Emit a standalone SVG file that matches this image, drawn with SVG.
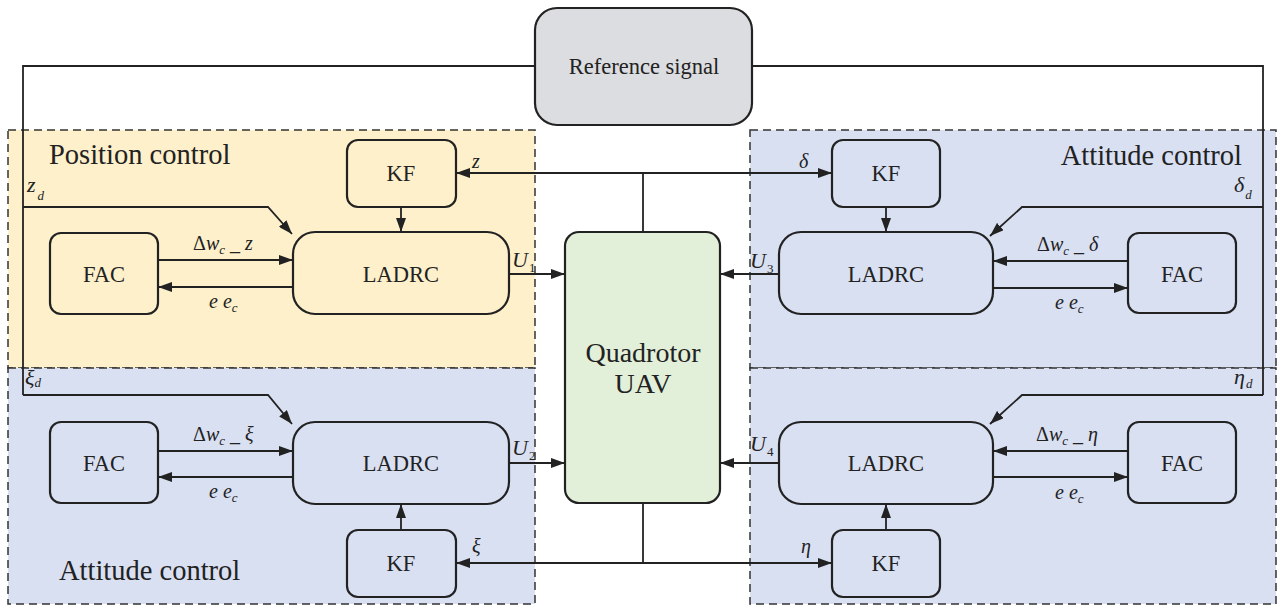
<svg xmlns="http://www.w3.org/2000/svg" width="1279" height="607" viewBox="0 0 1279 607" font-family="'Liberation Serif', 'DejaVu Serif', serif">
<style>
.reg{stroke:#333;stroke-width:1.5;stroke-dasharray:8 5}
.node{stroke:#222;stroke-width:2.2}
.blk{fill:#fdf0cb}
.blu{fill:#d9e0f2}
.ln{fill:none;stroke:#222;stroke-width:1.8}
.arr{marker-end:url(#ah)}
text{font-family:'Liberation Serif','DejaVu Serif',serif;fill:#222}
.nt{font-size:22.5px;text-anchor:middle}
.rt{font-size:28.5px}
.lb{font-size:20px;font-style:italic}
.sub{font-size:13px;font-style:italic}
.up{font-style:normal}
</style>
<defs>
<marker id="ah" markerUnits="userSpaceOnUse" markerWidth="14" markerHeight="10" refX="14" refY="5" orient="auto">
<path d="M0,0 L14,5 L0,10 z" fill="#222"/>
</marker>
<marker id="as" markerUnits="userSpaceOnUse" markerWidth="14" markerHeight="10" refX="0" refY="5" orient="auto">
<path d="M14,0 L0,5 L14,10 z" fill="#222"/>
</marker>
</defs>

<g id="regions">
<rect class="reg" x="8" y="130" width="527" height="238" fill="#fdf0cb"/>
<rect class="reg" x="8" y="368" width="527" height="236" fill="#d9e0f2"/>
<rect class="reg" x="750" y="130" width="526" height="238" fill="#d9e0f2"/>
<rect class="reg" x="750" y="368" width="526" height="236" fill="#d9e0f2"/>
<text class="rt" x="49" y="164">Position control</text>
<text class="rt" x="1242" y="165" text-anchor="end">Attitude control</text>
<text class="rt" x="59" y="580">Attitude control</text>
</g>

<g id="connectors">
<polyline class="ln" points="535,66 23,66 23,395"/>
<polyline class="ln" points="752,66 1263,66 1263,395"/>
<polyline class="ln arr" points="23,207 268,207 292,234"/>
<polyline class="ln arr" points="23,395 268,395 292,424"/>
<polyline class="ln arr" points="1263,207 1022,207 990,236"/>
<polyline class="ln arr" points="1263,395 1022,395 990,424"/>
<line class="ln" x1="456" y1="173" x2="832" y2="173" marker-start="url(#as)" marker-end="url(#ah)"/>
<line class="ln" x1="643" y1="173" x2="643" y2="232"/>
<line class="ln" x1="456" y1="563" x2="832" y2="563" marker-start="url(#as)" marker-end="url(#ah)"/>
<line class="ln" x1="643" y1="503" x2="643" y2="563"/>
<line class="ln arr" x1="401" y1="207" x2="401" y2="232"/>
<line class="ln arr" x1="886" y1="207" x2="886" y2="232"/>
<line class="ln arr" x1="401" y1="530" x2="401" y2="504"/>
<line class="ln arr" x1="886" y1="530" x2="886" y2="504"/>
<line class="ln arr" x1="158" y1="260" x2="293" y2="260"/>
<line class="ln arr" x1="293" y1="287" x2="158" y2="287"/>
<line class="ln arr" x1="158" y1="451" x2="293" y2="451"/>
<line class="ln arr" x1="293" y1="477" x2="158" y2="477"/>
<line class="ln arr" x1="1128" y1="261" x2="993" y2="261"/>
<line class="ln arr" x1="993" y1="288" x2="1128" y2="288"/>
<line class="ln arr" x1="1128" y1="451" x2="993" y2="451"/>
<line class="ln arr" x1="993" y1="477" x2="1128" y2="477"/>
<line class="ln arr" x1="509" y1="274" x2="565" y2="274"/>
<line class="ln arr" x1="509" y1="463" x2="565" y2="463"/>
<line class="ln arr" x1="779" y1="274" x2="720" y2="274"/>
<line class="ln arr" x1="779" y1="463" x2="720" y2="463"/>

<text class="lb" x="27" y="192" style="font-size:22px">z<tspan class="sub" dx="2" dy="8">d</tspan></text>
<text class="lb" x="25" y="385" style="font-size:22px">ξ<tspan class="sub" dx="0" dy="2">d</tspan></text>
<text class="lb" x="1234" y="192" style="font-size:22px">δ<tspan class="sub" dx="1" dy="7">d</tspan></text>
<text class="lb" x="1234" y="384" style="font-size:22px">η<tspan class="sub" dx="1" dy="4">d</tspan></text>
<text class="lb" x="472" y="168">z</text>
<text class="lb" x="799" y="168">δ</text>
<text class="lb" x="472" y="553">ξ</text>
<text class="lb" x="801" y="553">η</text>
<text class="lb" x="512" y="267" style="font-size:22px">U<tspan class="sub up" dx="1" dy="5">1</tspan></text>
<text class="lb" x="512" y="455" style="font-size:22px">U<tspan class="sub up" dx="1" dy="5">2</tspan></text>
<text class="lb" x="750" y="268" style="font-size:22px">U<tspan class="sub up" dx="1" dy="5">3</tspan></text>
<text class="lb" x="750" y="451" style="font-size:22px">U<tspan class="sub up" dx="1" dy="5">4</tspan></text>

<text class="lb" x="193" y="250"><tspan class="up">Δ</tspan>w<tspan class="sub" dy="4">c</tspan><tspan class="up" dx="5" dy="-4">_</tspan><tspan dx="5">z</tspan></text>
<text class="lb" x="193" y="441"><tspan class="up">Δ</tspan>w<tspan class="sub" dy="4">c</tspan><tspan class="up" dx="5" dy="-4">_</tspan><tspan dx="5">ξ</tspan></text>
<text class="lb" x="1037" y="251"><tspan class="up">Δ</tspan>w<tspan class="sub" dy="4">c</tspan><tspan class="up" dx="5" dy="-4">_</tspan><tspan dx="5">δ</tspan></text>
<text class="lb" x="1036" y="441"><tspan class="up">Δ</tspan>w<tspan class="sub" dy="4">c</tspan><tspan class="up" dx="5" dy="-4">_</tspan><tspan dx="5">η</tspan></text>
<text class="lb" x="209" y="308">e e<tspan class="sub" dy="4">c</tspan></text>
<text class="lb" x="209" y="498">e e<tspan class="sub" dy="4">c</tspan></text>
<text class="lb" x="1055" y="309">e e<tspan class="sub" dy="4">c</tspan></text>
<text class="lb" x="1055" y="499">e e<tspan class="sub" dy="4">c</tspan></text>
</g>

<g id="ref">
<rect class="node" x="535" y="8" width="217" height="117" rx="22" fill="#dcdde0"/>
<text x="644" y="74" style="font-size:22.5px;text-anchor:middle">Reference signal</text>
</g>
<g id="uav">
<rect class="node" x="565" y="232" width="155" height="271" rx="14" fill="#e2efd9"/>
<text x="643" y="362" style="font-size:28px;text-anchor:middle">Quadrotor</text>
<text x="643" y="393" style="font-size:28px;text-anchor:middle">UAV</text>
</g>

<g id="kf1"><rect class="node blk" x="347" y="140" width="109" height="67" rx="11"/><text class="nt" x="401" y="181">KF</text></g>
<g id="ladrc1"><rect class="node blk" x="293" y="232" width="216" height="82" rx="22"/><text class="nt" x="401" y="282">LADRC</text></g>
<g id="fac1"><rect class="node blk" x="50" y="233" width="108" height="81" rx="11"/><text class="nt" x="104" y="282">FAC</text></g>

<g id="kf2"><rect class="node blu" x="347" y="530" width="109" height="67" rx="11"/><text class="nt" x="401" y="571">KF</text></g>
<g id="ladrc2"><rect class="node blu" x="293" y="422" width="216" height="82" rx="22"/><text class="nt" x="401" y="471">LADRC</text></g>
<g id="fac2"><rect class="node blu" x="50" y="422" width="108" height="81" rx="11"/><text class="nt" x="104" y="471">FAC</text></g>

<g id="kf3"><rect class="node blu" x="832" y="140" width="108" height="67" rx="11"/><text class="nt" x="886" y="181">KF</text></g>
<g id="ladrc3"><rect class="node blu" x="779" y="232" width="214" height="82" rx="22"/><text class="nt" x="886" y="282">LADRC</text></g>
<g id="fac3"><rect class="node blu" x="1128" y="233" width="108" height="80" rx="11"/><text class="nt" x="1182" y="282">FAC</text></g>

<g id="kf4"><rect class="node blu" x="832" y="530" width="108" height="67" rx="11"/><text class="nt" x="886" y="571">KF</text></g>
<g id="ladrc4"><rect class="node blu" x="779" y="422" width="214" height="82" rx="22"/><text class="nt" x="886" y="471">LADRC</text></g>
<g id="fac4"><rect class="node blu" x="1128" y="422" width="108" height="81" rx="11"/><text class="nt" x="1182" y="471">FAC</text></g>
</svg>
